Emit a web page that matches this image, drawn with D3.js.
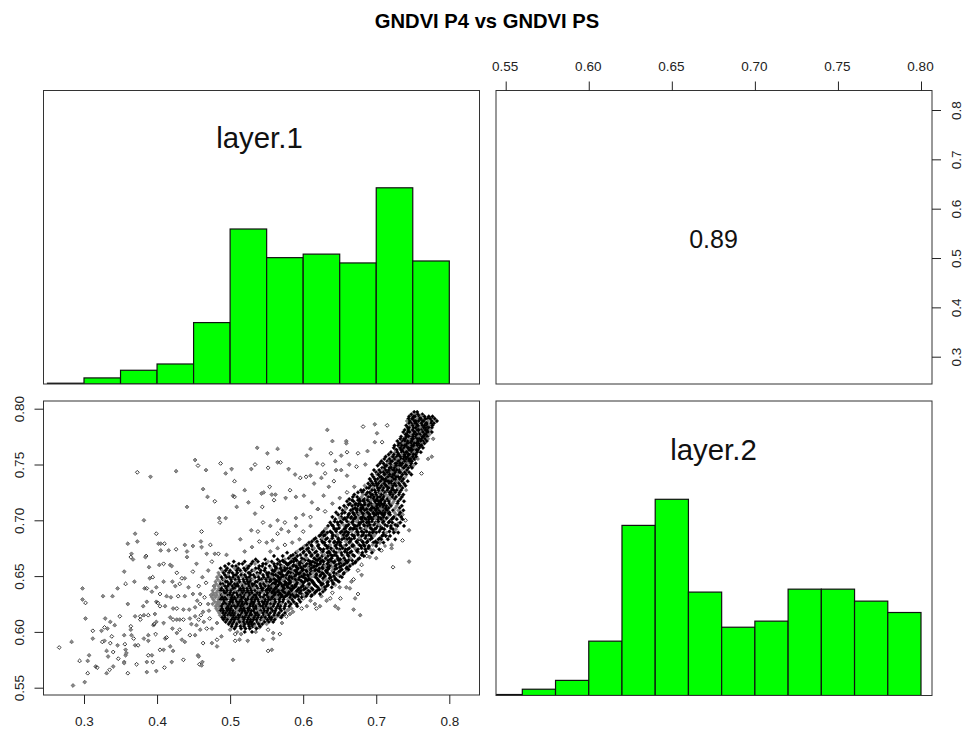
<!DOCTYPE html>
<html><head><meta charset="utf-8"><script src="https://cdnjs.cloudflare.com/ajax/libs/d3/7.8.5/d3.min.js"></script>
<style>html,body{margin:0;background:#fff}svg{display:block;font-family:"Liberation Sans",Arial,sans-serif}</style></head><body>
<div id="c"></div>
<script>
const title = "GNDVI P4 vs GNDVI PS";
const layer1Breaks = [.25,.3,.35,.4,.45,.5,.55,.6,.65,.7,.75,.8];
const layer1Heights = [.004,.031,.07,.102,.313,.79,.644,.662,.617,1,.627];
const layer2Breaks = [.54,.56,.58,.6,.62,.64,.66,.68,.7,.72,.74,.76,.78,.8];
const layer2Heights = [.005,.032,.077,.277,.867,1,.527,.348,.379,.542,.542,.481,.423];
const xTicksLayer1 = [.3,.4,.5,.6,.7,.8];
const yTicksLayer2 = [.55,.6,.65,.7,.75,.8];
const correlation = "0.89";
// isolated points [layer.1, layer.2]
const sparsePoints = [[.266,.586],[.283,.591],[.285,.552],[.294,.574],[.298,.639],[.298,.629],[.302,.626],[.302,.612],[.301,.555],[.305,.563],[.307,.579],[.305,.574],[.312,.601],[.312,.594],[.316,.569],[.318,.568],[.326,.632],[.324,.601],[.325,.591],[.328,.592],[.329,.612],[.328,.604],[.332,.603],[.331,.563],[.335,.566],[.331,.583],[.333,.578],[.336,.59],[.339,.632],[.336,.609],[.338,.596],[.342,.606],[.34,.569],[.34,.582],[.346,.639],[.346,.588],[.349,.614],[.355,.654],[.355,.597],[.356,.589],[.357,.584],[.355,.573],[.357,.643],[.357,.579],[.36,.625],[.36,.563],[.36,.679],[.365,.67],[.364,.667],[.367,.665],[.369,.645],[.364,.605],[.364,.602],[.365,.597],[.368,.594],[.37,.688],[.373,.681],[.373,.743],[.391,.739],[.382,.7],[.385,.668],[.384,.667],[.37,.588],[.374,.588],[.382,.594],[.388,.597],[.398,.598],[.395,.606],[.411,.594],[.413,.595],[.421,.603],[.427,.599],[.431,.602],[.434,.593],[.438,.591],[.445,.597],[.452,.597],[.459,.602],[.468,.603],[.475,.603],[.482,.608],[.463,.59],[.475,.59],[.482,.587],[.482,.593],[.488,.596],[.5,.602],[.507,.592],[.513,.593],[.524,.592],[.507,.598],[.515,.598],[.545,.593],[.552,.583],[.557,.584],[.559,.594],[.568,.598],[.559,.599],[.504,.575],[.388,.579],[.393,.579],[.386,.573],[.394,.573],[.386,.564],[.399,.565],[.41,.568],[.42,.573],[.409,.584],[.404,.584],[.418,.587],[.422,.583],[.436,.575],[.456,.579],[.457,.578],[.458,.571],[.461,.57],[.462,.573],[.372,.571],[.355,.572],[.358,.581],[.347,.576],[.388,.592],
[.452,.754],[.456,.749],[.467,.745],[.426,.744],[.487,.751],[.494,.742],[.502,.746],[.506,.735],[.52,.727],[.529,.746],[.534,.75],[.537,.765],[.551,.76],[.552,.747],[.565,.764],[.565,.752],[.569,.752],[.58,.746],[.589,.741],[.596,.738],[.605,.758],[.61,.764],[.604,.739],[.61,.74],[.619,.751],[.627,.75],[.633,.781],[.64,.771],[.638,.76],[.659,.771],[.659,.769],[.66,.761],[.652,.758],[.644,.753],[.682,.784],[.698,.786],[.701,.778],[.715,.785],[.463,.728],[.469,.721],[.479,.717],[.441,.712],[.504,.722],[.506,.721],[.509,.712],[.525,.716],[.544,.712],[.543,.724],[.546,.725],[.554,.73],[.557,.723],[.562,.723],[.56,.718],[.576,.72],[.59,.721],[.582,.727],[.601,.722],[.612,.716],[.399,.688],[.402,.679],[.405,.679],[.41,.679],[.405,.673],[.416,.673],[.426,.674],[.438,.678],[.449,.677],[.461,.69],[.46,.681],[.461,.676],[.473,.678],[.485,.702],[.494,.702],[.486,.698],[.534,.706],[.529,.691],[.538,.69],[.514,.683],[.495,.669],[.484,.67],[.479,.67],[.468,.67],[.475,.663],[.441,.667],[.454,.661],[.449,.654],[.441,.672],[.403,.66],[.409,.661],[.418,.66],[.42,.659],[.427,.653],[.389,.658],[.39,.648],[.394,.649],[.409,.645],[.421,.645],[.434,.648],[.438,.648],[.425,.641],[.431,.643],[.443,.64],[.383,.639],[.386,.639],[.399,.64],[.393,.636],[.404,.634],[.413,.632],[.419,.631],[.429,.632],[.438,.632],[.449,.634],[.457,.641],[.459,.634],[.399,.627],[.401,.626],[.386,.627],[.381,.623],[.404,.623],[.411,.623],[.422,.621],[.427,.621],[.444,.62],[.436,.62],[.377,.614],[.37,.614],[.382,.615],[.388,.615],[.397,.616],[.418,.613],[.422,.611],[.427,.611],[.431,.611],[.436,.611],[.445,.612],[.452,.614],[.457,.611],[.447,.607],[.454,.606],[.396,.607],[.399,.609],[.409,.608],[.377,.611],
[.462,.649],[.47,.655],[.465,.631],[.47,.625],[.463,.618],[.472,.612],[.478,.641],[.474,.633],[.467,.644],[.471,.619],[.464,.609],[.459,.625],[.455,.628],[.452,.622],[.46,.615],
[.52,.672],[.53,.676],[.54,.681],[.55,.68],[.558,.682],[.565,.688],[.57,.692],[.58,.69],[.545,.698],[.555,.695],[.565,.7],[.575,.698],[.59,.702],[.6,.705],[.61,.703],[.555,.672],[.565,.675],[.575,.678],[.585,.68],[.595,.683],[.6,.69],[.59,.695],[.61,.695],[.62,.71],[.628,.722],[.635,.73],[.642,.735],[.652,.745],[.663,.75],[.675,.76],[.688,.762],[.698,.77],[.708,.77],[.615,.733],[.625,.738],[.63,.742],[.645,.745],[.66,.74],[.673,.748],[.685,.75],[.62,.71],[.63,.708],[.64,.715],[.65,.72],[.66,.725],[.67,.73],
[.745,.663],[.723,.658],[.678,.615],[.669,.62],[.675,.634],[.671,.63],[.745,.691],[.736,.682],[.721,.678],[.721,.675],[.707,.673],[.696,.673],[.7,.679],[.687,.668],[.691,.667],[.7,.666],[.68,.66],[.68,.651],[.666,.645],[.669,.647],[.659,.64],[.664,.639],[.651,.63],[.644,.623],[.648,.621],[.637,.63],[.632,.628],[.623,.623],[.618,.621],[.616,.625],[.605,.623],[.598,.621],[.586,.618],[.582,.616],[.577,.614],[.568,.614],[.571,.608],[.762,.742],[.771,.755],[.776,.757],[.753,.755],[.778,.773],[.736,.705],[.74,.7],[.73,.697],[.725,.69],[.715,.685],[.705,.68],[.69,.676],[.675,.655],[.66,.655],[.65,.64],[.64,.635],[.625,.632],[.61,.628],[.6,.63],[.59,.625],[.58,.62],[.552,.602],[.54,.604],[.535,.6],[.548,.61],[.53,.605]];
// dense cloud, read as horizontal rows: [layer.2, [layer.1 ...]]
const upperBandRows = [
[.797,[.752,.756]],[.795,[.748,.754,.757,.763]],[.793,[.745,.751,.753,.759,.762,.766,.772,.777]],
[.791,[.744,.749,.75,.756,.76,.761,.767,.77,.774,.78]],[.789,[.742,.746,.752,.754,.758,.763,.765,.771,.776,.783]],
[.787,[.745,.748,.753,.755,.761,.762,.768,.769,.775,.779]],[.785,[.741,.747,.75,.756,.757,.763,.766,.77,.773,.777]],
[.783,[.743,.745,.751,.754,.759,.76,.765,.768,.772,.776]],[.781,[.739,.744,.749,.75,.756,.758,.762,.767,.77,.774]],
[.779,[.737,.743,.746,.752,.753,.759,.761,.764,.769,.771,.776]],[.777,[.74,.742,.748,.751,.755,.757,.76,.766,.768,.773]],
[.775,[.734,.741,.744,.745,.75,.754,.758,.763,.765,.77]],[.773,[.733,.738,.74,.746,.749,.751,.756,.759,.762,.767,.771]],
[.771,[.729,.736,.739,.743,.748,.75,.753,.757,.761,.764,.769]],[.769,[.731,.734,.737,.742,.745,.747,.752,.755,.758,.763,.766]],
[.767,[.725,.73,.735,.739,.741,.746,.749,.751,.756,.76,.762]],[.765,[.724,.732,.733,.738,.743,.744,.748,.753,.754,.759,.764]],
[.763,[.727,.728,.734,.736,.74,.745,.747,.75,.755,.757]],[.761,[.72,.726,.729,.735,.737,.741,.742,.749,.752,.756,.761]],
[.759,[.717,.724,.73,.731,.736,.739,.744,.746,.751,.754]],[.757,[.713,.721,.723,.728,.733,.738,.74,.743,.748,.75,.755]],
[.755,[.711,.718,.725,.727,.729,.734,.737,.741,.745,.747,.752,.757]],[.753,[.707,.715,.72,.722,.73,.732,.735,.739,.744,.746,.749]],
[.751,[.705,.71,.716,.719,.726,.728,.733,.736,.742,.743,.748,.754]],[.749,[.702,.712,.714,.721,.723,.727,.731,.734,.74,.741,.747,.751]],
[.747,[.708,.711,.718,.72,.725,.729,.73,.737,.738,.744,.749]],[.745,[.697,.704,.709,.713,.717,.722,.724,.728,.732,.735,.742]],
[.743,[.7,.706,.71,.715,.719,.721,.726,.731,.733,.739,.745]],[.741,[.694,.701,.703,.711,.712,.718,.723,.725,.729,.736,.741,.748]],
[.739,[.696,.705,.707,.714,.716,.72,.722,.727,.73,.734,.74]],[.737,[.691,.698,.702,.708,.71,.713,.719,.724,.726,.732,.737]],
[.735,[.693,.699,.704,.706,.712,.715,.717,.721,.728,.729,.735,.743]],[.733,[.689,.695,.7,.703,.709,.711,.718,.72,.725,.731,.738]],
[.731,[.684,.692,.697,.701,.707,.713,.714,.719,.723,.727,.733,.74]],[.729,[.687,.69,.696,.702,.705,.71,.716,.717,.722,.73,.736]],
[.727,[.679,.683,.694,.698,.703,.708,.709,.715,.721,.724,.728,.734,.741]],[.725,[.675,.681,.688,.691,.699,.704,.706,.712,.718,.72,.726,.732]],
[.723,[.67,.682,.686,.693,.695,.7,.707,.711,.713,.719,.723,.731,.737]],[.721,[.668,.674,.68,.689,.692,.697,.702,.705,.71,.716,.722,.727,.735]],
[.719,[.663,.677,.684,.687,.694,.696,.701,.708,.709,.715,.719,.725,.733]],[.717,[.66,.669,.678,.683,.69,.691,.698,.703,.706,.712,.717,.724,.73,.738]],
[.715,[.664,.672,.676,.685,.688,.693,.699,.704,.707,.711,.718,.722,.729]],[.713,[.656,.667,.675,.681,.689,.692,.695,.7,.705,.71,.714,.72,.728,.735]],
[.711,[.65,.659,.671,.679,.682,.686,.694,.697,.702,.708,.713,.717,.726,.732]],[.709,[.654,.665,.673,.678,.684,.69,.693,.699,.704,.709,.715,.723,.73,.737]],
[.707,[.645,.657,.668,.674,.68,.687,.688,.696,.701,.706,.712,.718,.725,.733]],[.705,[.648,.662,.67,.676,.683,.685,.691,.698,.7,.708,.711,.719,.727,.731]],
[.703,[.64,.652,.661,.666,.672,.677,.681,.689,.692,.697,.703,.71,.716,.724,.734]],[.701,[.644,.655,.658,.669,.675,.68,.686,.69,.695,.702,.707,.713,.721,.728,.736]]];
const middleBandRows = [
[.698,[.637,.647,.653,.663,.667,.676,.679,.687,.69,.699,.701,.709,.717,.722,.733]],
[.695,[.634,.641,.65,.658,.66,.671,.674,.684,.688,.693,.702,.705,.715,.72,.729,.738]],
[.692,[.63,.643,.646,.656,.664,.668,.673,.681,.685,.694,.698,.706,.711,.723,.727]],
[.689,[.626,.633,.639,.651,.657,.662,.672,.675,.683,.691,.695,.7,.71,.714,.724,.73]],
[.686,[.622,.628,.64,.645,.654,.659,.669,.67,.68,.686,.693,.697,.708,.713,.719]],
[.683,[.615,.625,.631,.638,.648,.653,.66,.666,.676,.678,.689,.692,.703,.707,.716,.726]],
[.68,[.608,.618,.627,.629,.642,.647,.651,.663,.665,.674,.682,.687,.696,.701,.71]],
[.677,[.602,.612,.62,.632,.635,.644,.652,.656,.667,.669,.679,.684,.69,.7,.712]],
[.674,[.596,.605,.613,.624,.628,.639,.641,.65,.658,.661,.672,.675,.685,.692,.704]],
[.671,[.578,.59,.6,.609,.616,.625,.633,.636,.645,.652,.66,.664,.676,.681,.694]],
[.668,[.56,.572,.583,.592,.603,.611,.619,.626,.634,.64,.646,.655,.662,.67,.683]],
[.665,[.535,.548,.565,.575,.586,.59,.601,.606,.617,.621,.63,.637,.647,.651,.663,.675]]];
const ridgeRows = [
[.632,[.556,.563,.571,.576,.587,.593,.604,.611]],[.634,[.553,.561,.569,.579,.586,.598,.606,.615,.623]],
[.636,[.558,.565,.573,.58,.59,.596,.609,.617,.627]],[.638,[.551,.56,.57,.576,.584,.593,.601,.613,.622,.63]],
[.64,[.555,.562,.572,.579,.588,.597,.605,.61,.62,.629,.639]],[.642,[.557,.566,.574,.583,.589,.599,.607,.616,.625,.634,.644]],
[.644,[.56,.568,.577,.582,.592,.6,.61,.614,.624,.633,.641]],[.646,[.556,.564,.572,.581,.59,.597,.606,.612,.621,.628,.639,.647]],
[.648,[.559,.567,.576,.585,.591,.603,.608,.619,.627,.636,.644]],[.65,[.554,.565,.573,.582,.588,.598,.607,.615,.623,.63,.642,.65]],
[.652,[.557,.569,.578,.586,.594,.601,.61,.618,.628,.637,.646,.655]],[.654,[.56,.571,.58,.59,.596,.605,.612,.622,.632,.641,.649]],
[.656,[.566,.575,.584,.592,.6,.609,.617,.625,.634,.643,.653,.662]],[.658,[.563,.574,.583,.591,.597,.608,.614,.626,.633,.64,.65,.66]],
[.66,[.569,.579,.587,.595,.604,.611,.62,.628,.637,.645,.655,.664]],[.662,[.576,.582,.594,.599,.61,.616,.624,.635,.642,.652,.66,.671]],
[.664,[.572,.584,.591,.602,.607,.619,.626,.634,.644,.649,.658,.667]],[.666,[.58,.589,.598,.605,.615,.623,.631,.639,.648,.656,.665,.677]],
[.669,[.586,.596,.604,.612,.62,.629,.638,.643,.653,.661,.668,.68]],[.672,[.592,.601,.608,.618,.627,.635,.642,.649,.657,.666,.674,.686]],
[.675,[.599,.607,.615,.622,.633,.638,.646,.654,.663,.671,.68,.689]],[.678,[.605,.611,.621,.63,.637,.645,.65,.659,.668,.677,.683,.695]],
[.681,[.612,.619,.626,.636,.643,.649,.658,.664,.673,.681,.688,.699]],[.684,[.617,.626,.633,.64,.648,.656,.663,.67,.677,.685,.694,.705]],
[.687,[.624,.63,.641,.647,.655,.661,.667,.675,.682,.69,.698,.71]],[.69,[.628,.637,.645,.653,.659,.666,.674,.68,.687,.696,.704,.718]],
[.693,[.632,.642,.649,.658,.665,.67,.678,.686,.692,.7,.708,.72]],[.696,[.639,.648,.655,.662,.669,.677,.683,.691,.697,.704,.712,.726]],
[.699,[.643,.651,.66,.668,.673,.682,.689,.694,.703,.71,.718]],[.702,[.65,.657,.665,.671,.679,.684,.693,.699,.706,.714,.723]],
[.706,[.653,.663,.669,.677,.682,.69,.696,.703,.709,.717]],[.71,[.658,.668,.674,.68,.687,.692,.7,.707,.713]],
[.714,[.662,.671,.679,.684,.69,.697,.702,.71]],[.718,[.667,.675,.682,.688,.693,.7,.706]]];
const coreRows = [
[.663,[.505,.52,.531,.538,.552,.557,.568,.573,.584,.587,.597,.6,.61,.613,.624,.628,.639,.643,.654,.661,.672]],
[.661,[.498,.512,.517,.529,.534,.545,.549,.56,.565,.577,.58,.592,.595,.605,.609,.619,.623,.633,.638,.649,.657,.668]],
[.659,[.493,.503,.508,.523,.526,.54,.544,.554,.561,.57,.572,.586,.59,.601,.603,.615,.618,.63,.636,.644,.652,.664]],
[.657,[.487,.496,.506,.511,.519,.524,.535,.539,.548,.556,.563,.569,.578,.582,.593,.598,.607,.611,.622,.627,.635,.646,.659]],
[.655,[.489,.494,.5,.509,.514,.521,.53,.533,.542,.547,.558,.561,.571,.575,.586,.589,.599,.604,.616,.62,.631,.64,.651]],
[.653,[.484,.491,.498,.503,.51,.516,.525,.527,.537,.541,.55,.553,.564,.567,.579,.583,.592,.596,.61,.613,.626,.633,.642,.656]],
[.651,[.485,.493,.497,.505,.508,.515,.52,.528,.532,.538,.545,.551,.559,.562,.572,.577,.585,.59,.602,.606,.618,.624,.636,.648]],
[.649,[.482,.488,.495,.499,.504,.511,.517,.522,.526,.534,.539,.546,.552,.557,.566,.57,.581,.584,.595,.6,.611,.617,.629,.638,.653]],
[.647,[.483,.49,.492,.501,.507,.512,.518,.523,.529,.531,.54,.543,.549,.555,.561,.568,.574,.58,.589,.594,.604,.609,.62,.631,.644]],
[.645,[.48,.486,.494,.496,.502,.509,.513,.519,.524,.527,.535,.537,.544,.55,.554,.563,.567,.575,.583,.587,.598,.602,.613,.622,.634,.649]],
[.643,[.481,.487,.49,.498,.5,.506,.51,.516,.521,.525,.53,.533,.541,.546,.551,.558,.562,.57,.576,.58,.591,.596,.608,.615,.627,.641]],
[.641,[.478,.484,.489,.493,.497,.503,.508,.511,.517,.52,.526,.531,.536,.542,.548,.553,.559,.565,.571,.578,.585,.59,.6,.605,.618,.632]],
[.639,[.479,.485,.488,.495,.499,.504,.506,.514,.518,.523,.528,.532,.538,.543,.545,.552,.556,.563,.569,.574,.582,.586,.594,.603,.612,.626]],
[.637,[.476,.483,.487,.491,.496,.501,.507,.512,.515,.519,.524,.529,.534,.539,.544,.549,.554,.56,.566,.572,.577,.584,.592,.597,.607,.619]],
[.635,[.477,.481,.486,.492,.494,.5,.505,.509,.513,.517,.522,.526,.53,.537,.541,.546,.551,.557,.562,.568,.575,.581,.588,.595,.604,.616]],
[.633,[.478,.482,.488,.49,.497,.499,.503,.51,.514,.52,.523,.527,.533,.535,.54,.547,.55,.555,.56,.566,.571,.578,.583,.591,.6,.612]],
[.631,[.475,.48,.485,.489,.493,.498,.502,.506,.511,.516,.518,.525,.528,.531,.536,.542,.545,.552,.558,.564,.569,.574,.582,.589,.598]],
[.629,[.477,.484,.487,.491,.495,.501,.504,.508,.512,.515,.521,.524,.529,.534,.538,.543,.548,.553,.556,.561,.567,.573,.579,.585,.594]],
[.627,[.479,.483,.486,.492,.496,.5,.503,.509,.513,.517,.522,.526,.53,.533,.539,.544,.547,.551,.557,.562,.568,.572,.58,.587,.596]],
[.625,[.476,.482,.485,.49,.494,.499,.505,.507,.511,.516,.52,.523,.528,.532,.537,.54,.546,.55,.555,.56,.566,.57,.576,.583,.591]],
[.623,[.48,.484,.488,.493,.497,.502,.506,.51,.514,.518,.521,.527,.531,.535,.541,.544,.549,.554,.559,.565,.569,.575,.581,.592]],
[.621,[.481,.486,.489,.495,.498,.501,.508,.512,.515,.519,.524,.526,.533,.536,.54,.546,.552,.556,.563,.568,.574,.584]],
[.619,[.483,.487,.491,.496,.5,.504,.509,.513,.517,.52,.525,.529,.532,.538,.542,.547,.551,.558,.562,.57,.578]],
[.617,[.485,.49,.494,.499,.503,.507,.51,.516,.521,.523,.528,.534,.537,.541,.545,.55,.555,.561,.567,.575]],
[.615,[.486,.492,.497,.501,.505,.511,.514,.518,.522,.527,.53,.535,.539,.546,.549,.553,.56,.565,.572]],
[.613,[.489,.493,.498,.504,.508,.512,.517,.52,.525,.531,.533,.538,.543,.548,.554,.557,.563,.57]],
[.611,[.491,.496,.502,.506,.511,.515,.519,.524,.528,.532,.536,.542,.545,.551,.556,.561]],
[.609,[.494,.5,.505,.51,.513,.518,.523,.527,.53,.537,.54,.547,.553,.559]],
[.607,[.498,.503,.509,.516,.52,.525,.529,.533,.539,.544,.55]],
[.605,[.502,.508,.514,.519,.526,.531,.534,.541]],
[.603,[.506,.515,.521,.527,.536]],[.6,[.51,.52,.53]]];

const W = 965, H = 730;
const plotBox = {tl:[43.5,90.5,479.5,384], tr:[496,90.5,932,384], bl:[43.5,401,479.5,695], br:[496,401,932,695.5]};
const svg = d3.select("#c").append("svg").attr("width",W).attr("height",H).attr("viewBox",`0 0 ${W} ${H}`);

const xL = d3.scaleLinear().domain([.3,.8]).range([84,449.3]);
const xR = d3.scaleLinear().domain([.55,.8]).range([505.7,921]);
const yScatter = d3.scaleLinear().domain([.55,.8]).range([687.7,408.7]);
const yRight = d3.scaleLinear().domain([.3,.8]).range([356.7,110]);

svg.append("text").attr("x",487).attr("y",28).attr("text-anchor","middle").attr("font-weight","bold").attr("font-size",20.2).attr("fill","#000").text(title);

const defs = svg.append("defs");
Object.entries(plotBox).forEach(([k,b]) => defs.append("clipPath").attr("id","clip-"+k).append("rect").attr("x",b[0]).attr("y",b[1]).attr("width",b[2]-b[0]).attr("height",b[3]-b[1]));

function hist(breaks, heights, x, base, key){
  const y = d3.scaleLinear().domain([0,1]).range([base, base-196.2]);
  svg.append("g").attr("clip-path",`url(#clip-${key})`).selectAll("rect").data(heights).join("rect")
    .attr("x",(d,i)=>x(breaks[i])).attr("width",(d,i)=>x(breaks[i+1])-x(breaks[i]))
    .attr("y",d=>y(d)).attr("height",d=>y(0)-y(d))
    .attr("fill","#00ff00").attr("stroke","#111").attr("stroke-width",1.2);
}
hist(layer1Breaks, layer1Heights, xL, 384, "tl");
hist(layer2Breaks, layer2Heights, xR, 695.5, "br");

const densePoints = upperBandRows.concat(middleBandRows, ridgeRows, coreRows).flatMap(([y,xs])=>xs.map(x=>[x,y]));
const scatterG = svg.append("g").attr("clip-path","url(#clip-bl)");
const at = d=>`translate(${xL(d[0]).toFixed(1)},${yScatter(d[1]).toFixed(1)})`;
const diamond = r=>`M0,${-r}L${r},0L0,${r}L${-r},0Z`;
const isGrey = (d,i)=> i%7==3 || d[0]<.487;
// isolated marks: antialiased grey blobs and crisp hollow diamonds
scatterG.selectAll("path.s").data(sparsePoints).join("path").attr("class","s")
  .attr("d",diamond(1.9)).attr("transform",at)
  .attr("fill",(d,i)=>i%3==0?"none":"#8a8a8a")
  .attr("stroke",(d,i)=>i%3==0?"#222":"#666").attr("stroke-width",.9);
scatterG.selectAll("path.d").data(densePoints).join("path").attr("class","d")
  .attr("d",diamond(1.9)).attr("transform",at)
  .attr("fill",(d,i)=>isGrey(d,i)?"#808080":"#000")
  .attr("stroke",(d,i)=>isGrey(d,i)?"#777":"#000").attr("stroke-width",.4);

Object.values(plotBox).forEach(b => svg.append("rect").attr("x",b[0]).attr("y",b[1]).attr("width",b[2]-b[0]).attr("height",b[3]-b[1]).attr("fill","none").attr("stroke","#333").attr("stroke-width",1));

function styleAxis(g){
  g.select(".domain").remove();
  g.selectAll("line").attr("stroke","#222");
  g.selectAll("text").attr("font-size",13.5).attr("fill","#222").attr("font-family",'"Liberation Sans",Arial,sans-serif');
}
const f1 = d3.format(".1f"), f2 = d3.format(".2f");
svg.append("g").attr("transform","translate(0,695)").call(d3.axisBottom(xL).tickValues(xTicksLayer1).tickFormat(f1).tickSize(9).tickPadding(12)).call(styleAxis);
svg.append("g").attr("transform","translate(43.5,0)").call(d3.axisLeft(yScatter).tickValues(yTicksLayer2).tickFormat(f2).tickSize(9)).call(styleAxis)
  .call(g=>g.selectAll("text").attr("x",0).attr("y",-24.5).attr("dy",".35em").attr("text-anchor","middle").attr("transform","rotate(-90)"));
svg.append("g").attr("transform","translate(0,90.5)").call(d3.axisTop(xR).tickValues(yTicksLayer2).tickFormat(f2).tickSize(9).tickPadding(11)).call(styleAxis)
  .call(g=>g.selectAll("text").attr("dx",-1));
svg.append("g").attr("transform","translate(932,0)").call(d3.axisRight(yRight).tickValues(xTicksLayer1).tickFormat(f1).tickSize(9)).call(styleAxis)
  .call(g=>g.selectAll("text").attr("x",0).attr("y",24.5).attr("dy",".35em").attr("text-anchor","middle").attr("transform","rotate(-90)"));

const big = (x,y,s,t)=>svg.append("text").attr("x",x).attr("y",y).attr("text-anchor","middle").attr("font-size",s).attr("fill","#111").text(t);
big(259.5,148,29.4,"layer.1");
big(713.5,248,25,correlation);
big(713.5,460,29.4,"layer.2");
</script></body></html>
